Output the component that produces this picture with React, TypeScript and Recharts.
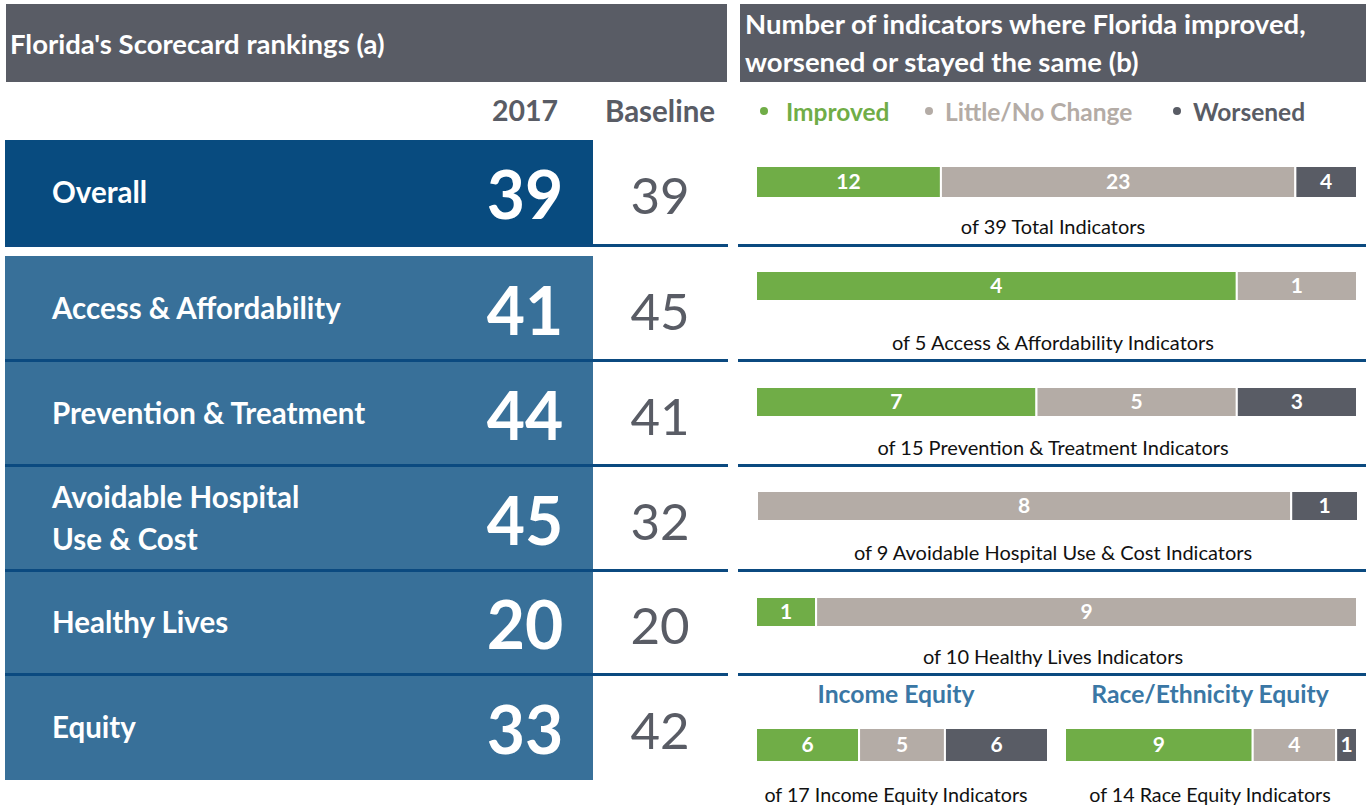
import React from 'react'
import { BarChart, Bar, XAxis, YAxis, LabelList } from 'recharts'

const categories = [
    'Overall',
    'Access & Affordability',
    'Prevention & Treatment',
    'Avoidable Hospital Use & Cost',
    'Healthy Lives',
    'Equity',
]
const rank2017 = [39, 41, 44, 45, 20, 33]
const rankBaseline = [39, 45, 41, 32, 20, 42]

// indicator counts per domain (Equity is split in two below)
const improved = [12, 4, 7, 0, 1]
const littleChange = [23, 1, 5, 8, 9]
const worsened = [4, 0, 3, 1, 0]
const captions = [
    'of 39 Total Indicators',
    'of 5 Access & Affordability Indicators',
    'of 15 Prevention & Treatment Indicators',
    'of 9 Avoidable Hospital Use & Cost Indicators',
    'of 10 Healthy Lives Indicators',
]

const equityGroups = ['Income Equity', 'Race/Ethnicity Equity']
const equityImproved = [6, 9]
const equityLittle = [5, 4]
const equityWorsened = [6, 1]
const equityCaptions = ['of 17 Income Equity Indicators', 'of 14 Race Equity Indicators']

const legendItems = ['Improved', 'Little/No Change', 'Worsened']

const GREEN = '#70ad47'
const TAUPE = '#b4aca6'
const SLATE = '#595c65'
const NAVY = '#084b7f'
const STEEL = '#387099'
const LINE = '#0b4a80'
const FONT = 'Lato, "Open Sans", sans-serif'

// row geometry (left table + right bars)
const rowBox = [
    { top: 140, bottom: 244 },
    { top: 256, bottom: 360 },
    { top: 360, bottom: 465 },
    { top: 465, bottom: 570 },
    { top: 570, bottom: 674 },
    { top: 674, bottom: 780 },
]
const separators = [244, 359, 464, 569, 673]
const barTops = [166, 271, 387, 491, 597]
const barHeights = [32, 30, 30, 30, 30]
const captionMid = [226, 342, 447, 552, 656]

const hideZero = (v: any) => (v ? v : '')

interface StackProps {
    left: number
    top: number
    width: number
    height: number
    imp: number
    lit: number
    wor: number
}

function StackBar({ left, top, width, height, imp, lit, wor }: StackProps) {
    const data = [{ name: 'row', improved: imp, little: lit, worsened: wor }]
    const lbl = { fill: '#fff', fontSize: 21, fontWeight: 700, fontFamily: FONT }
    return (
        <div style={{ position: 'absolute', left, top }}>
            <BarChart
                layout="vertical"
                width={width}
                height={height}
                data={data}
                margin={{ top: 0, right: 0, bottom: 0, left: 0 }}
                barCategoryGap={0}
            >
                <XAxis type="number" hide domain={[0, imp + lit + wor]} />
                <YAxis type="category" dataKey="name" hide />
                <Bar dataKey="improved" stackId="s" fill={GREEN} stroke="#fff" strokeWidth={2} isAnimationActive={false}>
                    <LabelList dataKey="improved" position="center" formatter={hideZero} style={lbl} />
                </Bar>
                <Bar dataKey="little" stackId="s" fill={TAUPE} stroke="#fff" strokeWidth={2} isAnimationActive={false}>
                    <LabelList dataKey="little" position="center" formatter={hideZero} style={lbl} />
                </Bar>
                <Bar dataKey="worsened" stackId="s" fill={SLATE} stroke="#fff" strokeWidth={2} isAnimationActive={false}>
                    <LabelList dataKey="worsened" position="center" formatter={hideZero} style={lbl} />
                </Bar>
            </BarChart>
        </div>
    )
}

const abs = (s: React.CSSProperties): React.CSSProperties => ({ position: 'absolute', ...s })

export default function App() {
    const legendColors = [GREEN, TAUPE, SLATE]
    const legendDotX = [764, 929, 1177]
    const legendTextX = [786, 945, 1193]

    return (
        <div
            style={{
                position: 'absolute',
                left: 0,
                top: 0,
                width: 1368,
                height: 808,
                background: '#fff',
                fontFamily: FONT,
                overflow: 'hidden',
            }}
        >
            {/* headers */}
            <div style={abs({ left: 6, top: 4, width: 721, height: 78, background: SLATE })} />
            <div style={abs({ left: 10, top: 43, transform: 'translateY(-50%)', color: '#fff', fontWeight: 700, fontSize: 27.5, whiteSpace: 'nowrap' })}>
                Florida's Scorecard rankings (a)
            </div>
            <div style={abs({ left: 740, top: 4, width: 626, height: 78, background: SLATE })} />
            <div style={abs({ left: 745, top: 5, color: '#fff', fontWeight: 700, fontSize: 27.5, lineHeight: '38px', whiteSpace: 'nowrap' })}>
                Number of indicators where Florida improved,
                <br />
                worsened or stayed the same (b)
            </div>

            {/* column heads */}
            <div style={abs({ left: 525, top: 110, transform: 'translate(-50%,-50%)', color: SLATE, fontWeight: 700, fontSize: 28.5 })}>2017</div>
            <div style={abs({ left: 660, top: 110, transform: 'translate(-50%,-50%)', color: SLATE, fontWeight: 700, fontSize: 29.5 })}>Baseline</div>

            {/* legend */}
            {legendItems.map((name, i) => (
                <React.Fragment key={name}>
                    <div style={abs({ left: legendDotX[i] - 4, top: 107, width: 8, height: 8, borderRadius: 4, background: legendColors[i] })} />
                    <div style={abs({ left: legendTextX[i], top: 111, transform: 'translateY(-50%)', color: legendColors[i], fontWeight: 700, fontSize: 24.5, whiteSpace: 'nowrap' })}>
                        {name}
                    </div>
                </React.Fragment>
            ))}

            {/* left table */}
            {categories.map((cat, i) => {
                const b = rowBox[i]
                const mid = (b.top + b.bottom) / 2
                return (
                    <React.Fragment key={cat}>
                        <div style={abs({ left: 5, top: b.top, width: 588, height: b.bottom - b.top, background: i === 0 ? NAVY : STEEL })} />
                        <div
                            style={abs({
                                left: 52,
                                top: mid,
                                transform: 'translateY(-50%)',
                                color: '#fff',
                                fontWeight: 700,
                                fontSize: 29.5,
                                lineHeight: '42px',
                                whiteSpace: 'pre-line',
                            })}
                        >
                            {cat.replace(' Use', '\nUse')}
                        </div>
                        <div style={abs({ left: 525, top: mid + 2, transform: 'translate(-50%,-50%)', color: '#fff', fontWeight: 700, fontSize: 66, lineHeight: 1 })}>
                            {rank2017[i]}
                        </div>
                        <div style={abs({ left: 660, top: mid + 2, transform: 'translate(-50%,-50%)', color: SLATE, fontWeight: 400, fontSize: 51, lineHeight: 1 })}>
                            {rankBaseline[i]}
                        </div>
                    </React.Fragment>
                )
            })}

            {/* separators */}
            {separators.map((y) => (
                <React.Fragment key={y}>
                    <div style={abs({ left: 5, top: y, width: 723, height: 3, background: LINE })} />
                    <div style={abs({ left: 738, top: y, width: 628, height: 3, background: LINE })} />
                </React.Fragment>
            ))}

            {/* domain bars */}
            {improved.map((imp, i) => (
                <React.Fragment key={captions[i]}>
                    <StackBar
                        left={i === 3 ? 757 : 756}
                        top={barTops[i]}
                        width={601}
                        height={barHeights[i]}
                        imp={imp}
                        lit={littleChange[i]}
                        wor={worsened[i]}
                    />
                    <div style={abs({ left: 1053, top: captionMid[i], transform: 'translate(-50%,-50%)', color: '#111', fontSize: 20, whiteSpace: 'nowrap' })}>
                        {captions[i]}
                    </div>
                </React.Fragment>
            ))}

            {/* equity split */}
            {equityGroups.map((g, i) => {
                const left = i === 0 ? 756 : 1065
                const center = i === 0 ? 896 : 1210
                return (
                    <React.Fragment key={g}>
                        <div style={abs({ left: center, top: 693, transform: 'translate(-50%,-50%)', color: '#3a77a5', fontWeight: 700, fontSize: 24.7, whiteSpace: 'nowrap' })}>
                            {g}
                        </div>
                        <StackBar left={left} top={728} width={292} height={34} imp={equityImproved[i]} lit={equityLittle[i]} wor={equityWorsened[i]} />
                        <div style={abs({ left: center, top: 794, transform: 'translate(-50%,-50%)', color: '#111', fontSize: 19.7, whiteSpace: 'nowrap' })}>
                            {equityCaptions[i]}
                        </div>
                    </React.Fragment>
                )
            })}
        </div>
    )
}
